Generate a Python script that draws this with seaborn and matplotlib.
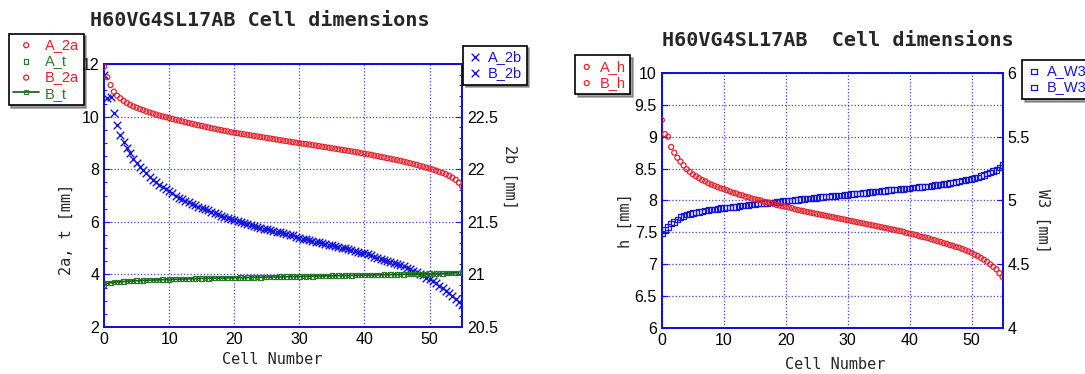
import pandas as pd
import seaborn as sns
import matplotlib.pyplot as plt
from matplotlib.ticker import MultipleLocator, FormatStrFormatter

# cell numbers: A cells on integers, B cells in between
cell_a = list(range(56))
cell_b = [c + 0.5 for c in range(55)]

# --- left chart: 2a, t (left axis) and 2b (right axis) ---
a_2a = [11.90, 11.20, 10.80, 10.60, 10.45, 10.34, 10.25, 10.16, 10.08, 10.01,
        9.95, 9.88, 9.82, 9.76, 9.70, 9.65, 9.59, 9.54, 9.49, 9.44,
        9.39, 9.35, 9.31, 9.27, 9.23, 9.19, 9.15, 9.11, 9.07, 9.03,
        8.99, 8.96, 8.92, 8.88, 8.84, 8.80, 8.76, 8.72, 8.68, 8.64,
        8.59, 8.55, 8.50, 8.45, 8.40, 8.35, 8.29, 8.23, 8.17, 8.10,
        8.03, 7.95, 7.86, 7.75, 7.60, 7.35]
b_2a = [11.50, 10.95, 10.70, 10.52, 10.39, 10.29, 10.20, 10.12, 10.04, 9.98,
        9.91, 9.85, 9.79, 9.73, 9.67, 9.62, 9.56, 9.51, 9.46, 9.41,
        9.37, 9.33, 9.29, 9.25, 9.21, 9.17, 9.13, 9.09, 9.05, 9.01,
        8.97, 8.94, 8.90, 8.86, 8.82, 8.78, 8.74, 8.70, 8.66, 8.61,
        8.57, 8.52, 8.47, 8.42, 8.37, 8.32, 8.26, 8.20, 8.13, 8.06,
        7.99, 7.90, 7.81, 7.68, 7.49]
a_t = [3.62, 3.68, 3.71, 3.73, 3.75, 3.76, 3.77, 3.78, 3.79, 3.80,
       3.81, 3.82, 3.82, 3.83, 3.84, 3.85, 3.85, 3.86, 3.86, 3.87,
       3.87, 3.88, 3.88, 3.89, 3.89, 3.90, 3.90, 3.91, 3.91, 3.92,
       3.92, 3.93, 3.93, 3.94, 3.94, 3.95, 3.95, 3.96, 3.96, 3.97,
       3.97, 3.98, 3.98, 3.99, 3.99, 4.00, 4.00, 4.01, 4.01, 4.02,
       4.03, 4.03, 4.04, 4.05, 4.06, 4.07]
b_t = [3.66, 3.70, 3.72, 3.74, 3.755, 3.765, 3.775, 3.785, 3.795, 3.805,
       3.815, 3.82, 3.825, 3.835, 3.845, 3.85, 3.855, 3.86, 3.865, 3.87,
       3.875, 3.88, 3.885, 3.89, 3.895, 3.90, 3.905, 3.91, 3.915, 3.92,
       3.925, 3.93, 3.935, 3.94, 3.945, 3.95, 3.955, 3.96, 3.965, 3.97,
       3.975, 3.98, 3.985, 3.99, 3.995, 4.00, 4.005, 4.01, 4.015, 4.025,
       4.03, 4.035, 4.045, 4.055, 4.065]
a_2b = [22.90, 22.69, 22.42, 22.26, 22.15, 22.06, 21.99, 21.93, 21.88, 21.83,
        21.79, 21.75, 21.72, 21.69, 21.66, 21.63, 21.61, 21.58, 21.56, 21.54,
        21.52, 21.50, 21.48, 21.46, 21.44, 21.43, 21.41, 21.40, 21.38, 21.37,
        21.35, 21.34, 21.32, 21.31, 21.29, 21.28, 21.26, 21.25, 21.23, 21.21,
        21.20, 21.18, 21.16, 21.14, 21.12, 21.10, 21.08, 21.05, 21.02, 20.99,
        20.96, 20.92, 20.87, 20.82, 20.77, 20.71]
b_2b = [22.68, 22.53, 22.33, 22.20, 22.10, 22.02, 21.96, 21.90, 21.85, 21.81,
        21.77, 21.73, 21.70, 21.67, 21.64, 21.62, 21.59, 21.57, 21.55, 21.53,
        21.51, 21.49, 21.47, 21.45, 21.43, 21.42, 21.40, 21.39, 21.37, 21.36,
        21.34, 21.33, 21.31, 21.30, 21.28, 21.27, 21.25, 21.24, 21.22, 21.20,
        21.19, 21.17, 21.15, 21.13, 21.11, 21.09, 21.06, 21.03, 21.00, 20.97,
        20.94, 20.89, 20.84, 20.79, 20.74]

# --- right chart: h (left axis) and W3 (right axis) ---
a_h = [9.26, 9.00, 8.75, 8.61, 8.49, 8.41, 8.35, 8.30, 8.25, 8.21,
       8.18, 8.14, 8.11, 8.08, 8.05, 8.02, 8.00, 7.97, 7.95, 7.92,
       7.90, 7.88, 7.85, 7.83, 7.81, 7.79, 7.77, 7.75, 7.73, 7.71,
       7.69, 7.67, 7.65, 7.63, 7.61, 7.59, 7.57, 7.55, 7.53, 7.51,
       7.48, 7.46, 7.43, 7.41, 7.38, 7.35, 7.32, 7.29, 7.26, 7.22,
       7.18, 7.13, 7.07, 7.00, 6.92, 6.80]
b_h = [9.04, 8.84, 8.67, 8.55, 8.45, 8.38, 8.32, 8.27, 8.23, 8.19,
       8.16, 8.12, 8.09, 8.06, 8.03, 8.01, 7.98, 7.96, 7.93, 7.91,
       7.89, 7.86, 7.84, 7.82, 7.80, 7.78, 7.76, 7.74, 7.72, 7.70,
       7.68, 7.66, 7.64, 7.62, 7.60, 7.58, 7.56, 7.54, 7.52, 7.49,
       7.47, 7.44, 7.42, 7.39, 7.36, 7.33, 7.30, 7.27, 7.24, 7.20,
       7.15, 7.10, 7.04, 6.96, 6.86]
a_w3 = [4.74, 4.79, 4.83, 4.87, 4.89, 4.90, 4.91, 4.92, 4.93, 4.935,
        4.94, 4.945, 4.95, 4.96, 4.965, 4.97, 4.975, 4.98, 4.985, 4.99,
        4.995, 5.00, 5.005, 5.01, 5.015, 5.02, 5.025, 5.03, 5.035, 5.04,
        5.045, 5.05, 5.055, 5.06, 5.065, 5.07, 5.075, 5.08, 5.085, 5.09,
        5.095, 5.10, 5.105, 5.11, 5.12, 5.125, 5.13, 5.14, 5.15, 5.16,
        5.17, 5.18, 5.20, 5.22, 5.24, 5.28]
b_w3 = [4.77, 4.82, 4.85, 4.88, 4.895, 4.905, 4.915, 4.925, 4.93, 4.94,
        4.945, 4.95, 4.955, 4.96, 4.97, 4.975, 4.98, 4.985, 4.99, 4.995,
        5.00, 5.005, 5.01, 5.015, 5.02, 5.025, 5.03, 5.035, 5.04, 5.045,
        5.05, 5.055, 5.06, 5.065, 5.07, 5.075, 5.08, 5.085, 5.09, 5.095,
        5.10, 5.105, 5.11, 5.115, 5.12, 5.13, 5.135, 5.145, 5.155, 5.165,
        5.175, 5.19, 5.21, 5.23, 5.26]

df_a = pd.DataFrame({'cell': cell_a, '2a': a_2a, 't': a_t, '2b': a_2b, 'h': a_h, 'W3': a_w3})
df_b = pd.DataFrame({'cell': cell_b, '2a': b_2a, 't': b_t, '2b': b_2b, 'h': b_h, 'W3': b_w3})

RED = '#e8202a'
BLUE = '#1515d8'
GREEN = '#2a7a2a'
DKGREEN = '#0a5a0a'
FRAME = '#1010e0'

sns.set_theme(style='white')
plt.rcParams['font.family'] = ['Liberation Sans', 'DejaVu Sans']
mono = 'DejaVu Sans Mono'

fig = plt.figure(figsize=(10.85, 3.74), dpi=100)
ax1 = fig.add_axes([0.0959, 0.1257, 0.330, 0.703])
ax2 = ax1.twinx()
ax3 = fig.add_axes([0.610, 0.123, 0.314, 0.682])
ax4 = ax3.twinx()

circ = dict(marker='o', s=13, facecolor='none', edgecolor=RED, color=RED, linewidth=0.9)
sq_g = dict(marker='s', s=11, facecolor='none', edgecolor=GREEN, color=GREEN, linewidth=0.9)
sq_b = dict(marker='s', s=16, facecolor='none', edgecolor=BLUE, color=BLUE, linewidth=0.9)

# left chart
sns.scatterplot(data=df_a, x='cell', y='2a', ax=ax1, label='A_2a', zorder=3, **circ)
sns.scatterplot(data=df_a, x='cell', y='t', ax=ax1, label='A_t', zorder=3, **sq_g)
sns.scatterplot(data=df_b, x='cell', y='2a', ax=ax1, label='B_2a', zorder=3, **circ)
sns.lineplot(data=df_b, x='cell', y='t', ax=ax1, label='B_t', color=DKGREEN, linewidth=1.2,
             marker='s', markersize=3.5, markerfacecolor='none', markeredgecolor=GREEN, zorder=3)
sns.scatterplot(data=df_a, x='cell', y='2b', ax=ax2, label='A_2b', marker='x', s=30,
                color=BLUE, linewidth=1.0)
sns.scatterplot(data=df_b, x='cell', y='2b', ax=ax2, label='B_2b', marker='x', s=30,
                color=BLUE, linewidth=1.0)

# right chart
sns.scatterplot(data=df_a, x='cell', y='h', ax=ax3, label='A_h', zorder=3, **circ)
sns.scatterplot(data=df_b, x='cell', y='h', ax=ax3, label='B_h', zorder=3, **circ)
sns.scatterplot(data=df_a, x='cell', y='W3', ax=ax4, label='A_W3', **sq_b)
sns.scatterplot(data=df_b, x='cell', y='W3', ax=ax4, label='B_W3', **sq_b)

for ax in (ax1, ax2, ax3, ax4):
    if ax.get_legend() is not None:
        ax.get_legend().remove()
    ax.set_xlim(0, 55)
    ax.xaxis.set_major_locator(MultipleLocator(10))
    for sp in ax.spines.values():
        sp.set_visible(True)
        sp.set_color(FRAME)
        sp.set_linewidth(1.4)
    ax.tick_params(direction='in', colors=FRAME, labelcolor='black', labelsize=11.5,
                   length=4, width=0.8)
    ax.tick_params(which='minor', direction='in', colors=FRAME, length=2.5, width=0.7)
    ax.yaxis.set_major_formatter(FormatStrFormatter('%g'))
    ax.set_xlabel('')
    ax.set_ylabel('')

ax1.set_ylim(2, 12)
ax1.yaxis.set_major_locator(MultipleLocator(2))
ax1.yaxis.set_minor_locator(MultipleLocator(0.5))
ax2.set_ylim(20.5, 23)
ax2.set_yticks([20.5, 21, 21.5, 22, 22.5])
ax2.yaxis.set_minor_locator(MultipleLocator(0.1))
ax3.set_ylim(6, 10)
ax3.yaxis.set_major_locator(MultipleLocator(0.5))
ax4.set_ylim(4, 6)
ax4.yaxis.set_major_locator(MultipleLocator(0.5))
ax2.set_zorder(ax1.get_zorder() - 1)
ax1.patch.set_visible(False)
ax4.set_zorder(ax3.get_zorder() - 1)
ax3.patch.set_visible(False)

for ax in (ax1, ax3):
    ax.grid(True, which='major', color=FRAME, linestyle=':', linewidth=0.9, alpha=0.8)
    ax.set_axisbelow(True)
for ax in (ax2, ax4):
    ax.grid(False)
    ax.tick_params(axis='y', labelright=True, labelleft=False)

lab = dict(family=mono, fontsize=11)
ax1.set_xlabel('Cell Number', **lab)
ax1.xaxis.set_label_coords(0.47, -0.095)
ax1.set_ylabel('2a, t [mm]', **lab)
ax1.yaxis.set_label_coords(-0.085, 0.37)
ax2.set_ylabel('2b [mm]', rotation=270, **lab)
ax2.yaxis.set_label_coords(1.155, 0.57)
ax3.set_xlabel('Cell Number', **lab)
ax3.xaxis.set_label_coords(0.51, -0.115)
ax3.set_ylabel('h [mm]', **lab)
ax3.yaxis.set_label_coords(-0.085, 0.42)
ax4.set_ylabel('W3 [mm]', rotation=270, **lab)
ax4.yaxis.set_label_coords(1.14, 0.42)

fig.text(0.239, 0.945, 'H60VG4SL17AB Cell dimensions', family=mono, fontsize=14.5,
         fontweight='bold', ha='center', va='center')
fig.text(0.772, 0.892, 'H60VG4SL17AB  Cell dimensions', family=mono, fontsize=14.5,
         fontweight='bold', ha='center', va='center')


def add_legend(ax, anchor, color_map, hl=1.0):
    h, l = ax.get_legend_handles_labels()
    leg = fig.legend(h, l, loc='upper left', bbox_to_anchor=anchor, fontsize=10.5,
                     frameon=True, fancybox=False, shadow=True, edgecolor='black',
                     framealpha=1, handlelength=hl, handletextpad=0.4,
                     borderpad=0.3, labelspacing=0.15, borderaxespad=0)
    leg.get_frame().set_linewidth(1.2)
    for txt in leg.get_texts():
        txt.set_color(color_map[txt.get_text()])
    return leg


add_legend(ax1, (0.008, 0.91), {'A_2a': RED, 'A_t': GREEN, 'B_2a': RED, 'B_t': GREEN}, hl=1.8)
add_legend(ax2, (0.427, 0.878), {'A_2b': BLUE, 'B_2b': BLUE})
add_legend(ax3, (0.530, 0.852), {'A_h': RED, 'B_h': RED})
add_legend(ax4, (0.942, 0.84), {'A_W3': BLUE, 'B_W3': BLUE})

fig.savefig('out.png', dpi=100)
